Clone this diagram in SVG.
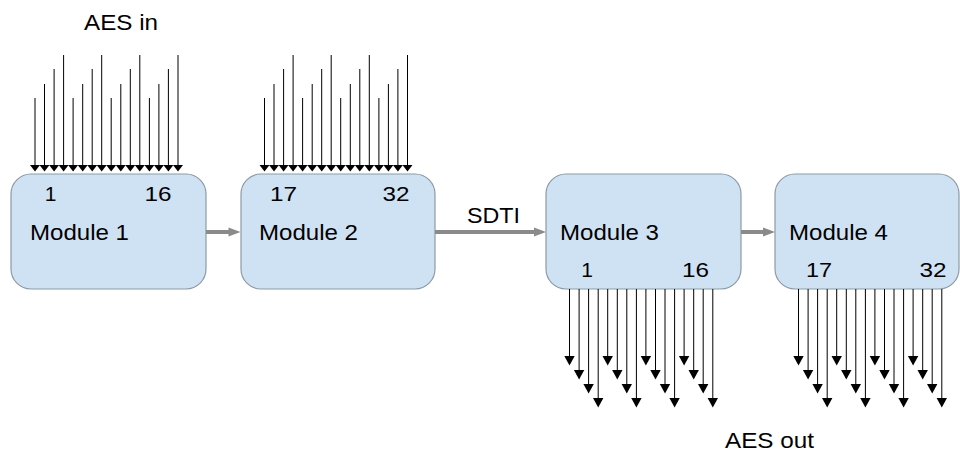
<svg xmlns="http://www.w3.org/2000/svg" xmlns:xlink="http://www.w3.org/1999/xlink" width="960" height="452" viewBox="0 0 960 452">
  <style>
    .box { fill: #cfe2f3; stroke: #8e9aa3; stroke-width: 1.2; }
    .lbl { font-family: "Liberation Sans", Arial, sans-serif; font-size: 22px; fill: #000; }
    .num { font-family: "Liberation Sans", Arial, sans-serif; font-size: 21px; fill: #000; text-anchor: middle; }
    .sig line { stroke: #000; stroke-width: 1; fill: none; }
    .sig use { fill: #000; }
    .link line { stroke: #8a8a8a; stroke-width: 4; fill: none; }
    .link use { fill: #8a8a8a; }
  </style>
  <defs>
    <!-- arrowheads, tip at the origin -->
    <path id="headIn" d="M-5,-6.5 L5,-6.5 L0,0 z"/>
    <path id="headOut" d="M-5.2,-9.5 L5.2,-9.5 L0,0 z"/>
    <path id="headLink" d="M-12,-4.5 L0,0 L-12,4.5 z"/>
  </defs>

  <rect width="960" height="452" fill="#fff"/>

  <!-- free labels -->
  <text class="lbl" x="84" y="30" textLength="74" lengthAdjust="spacingAndGlyphs">AES in</text>
  <text class="lbl" x="725" y="448" textLength="89" lengthAdjust="spacingAndGlyphs">AES out</text>

  <!-- modules -->
  <g id="module1">
    <rect class="box" x="11" y="174" width="195" height="115" rx="20" ry="20"/>
    <text class="lbl" x="30" y="239.5" textLength="99" lengthAdjust="spacingAndGlyphs">Module 1</text>
    <text class="num" x="50.5" y="200.5">1</text>
    <text class="num" x="158" y="200.5" textLength="27" lengthAdjust="spacingAndGlyphs">16</text>
  </g>
  <g id="module2">
    <rect class="box" x="241" y="174" width="194" height="115" rx="20" ry="20"/>
    <text class="lbl" x="259" y="239.5" textLength="99" lengthAdjust="spacingAndGlyphs">Module 2</text>
    <text class="num" x="283.5" y="200.5" textLength="27" lengthAdjust="spacingAndGlyphs">17</text>
    <text class="num" x="396" y="200.5" textLength="27" lengthAdjust="spacingAndGlyphs">32</text>
  </g>
  <g id="module3">
    <rect class="box" x="546" y="174" width="195" height="115" rx="20" ry="20"/>
    <text class="lbl" x="560" y="240" textLength="99" lengthAdjust="spacingAndGlyphs">Module 3</text>
    <text class="num" x="587" y="277">1</text>
    <text class="num" x="695.5" y="277" textLength="27" lengthAdjust="spacingAndGlyphs">16</text>
  </g>
  <g id="module4">
    <rect class="box" x="775" y="174" width="184" height="115" rx="20" ry="20"/>
    <text class="lbl" x="789" y="240" textLength="99" lengthAdjust="spacingAndGlyphs">Module 4</text>
    <text class="num" x="819" y="277" textLength="26" lengthAdjust="spacingAndGlyphs">17</text>
    <text class="num" x="933" y="277" textLength="27" lengthAdjust="spacingAndGlyphs">32</text>
  </g>

  <g id="connectors">
    <!-- module links -->
    <g class="link">
      <line x1="206" y1="232" x2="232" y2="232"/>
      <use xlink:href="#headLink" href="#headLink" x="240.5" y="232"/>
      <line x1="435" y1="232" x2="538" y2="232"/>
      <use xlink:href="#headLink" href="#headLink" x="546" y="232"/>
      <line x1="741" y1="232" x2="767" y2="232"/>
      <use xlink:href="#headLink" href="#headLink" x="775" y="232"/>
    </g>
    <text class="lbl" x="467" y="223" textLength="53" lengthAdjust="spacingAndGlyphs">SDTI</text>

    <!-- AES inputs 1..16 into module 1 -->
    <g class="sig">
      <line x1="35.0" y1="98" x2="35.0" y2="166"/>
      <line x1="44.5" y1="84" x2="44.5" y2="166"/>
      <line x1="54.1" y1="69" x2="54.1" y2="166"/>
      <line x1="63.6" y1="55" x2="63.6" y2="166"/>
      <line x1="73.1" y1="98" x2="73.1" y2="166"/>
      <line x1="82.7" y1="84" x2="82.7" y2="166"/>
      <line x1="92.2" y1="69" x2="92.2" y2="166"/>
      <line x1="101.7" y1="55" x2="101.7" y2="166"/>
      <line x1="111.2" y1="98" x2="111.2" y2="166"/>
      <line x1="120.8" y1="84" x2="120.8" y2="166"/>
      <line x1="130.3" y1="69" x2="130.3" y2="166"/>
      <line x1="139.8" y1="55" x2="139.8" y2="166"/>
      <line x1="149.4" y1="98" x2="149.4" y2="166"/>
      <line x1="158.9" y1="84" x2="158.9" y2="166"/>
      <line x1="168.4" y1="69" x2="168.4" y2="166"/>
      <line x1="178.0" y1="55" x2="178.0" y2="166"/>
      <use href="#headIn" x="35.0" y="171.5"/>
      <use href="#headIn" x="44.5" y="171.5"/>
      <use href="#headIn" x="54.1" y="171.5"/>
      <use href="#headIn" x="63.6" y="171.5"/>
      <use href="#headIn" x="73.1" y="171.5"/>
      <use href="#headIn" x="82.7" y="171.5"/>
      <use href="#headIn" x="92.2" y="171.5"/>
      <use href="#headIn" x="101.7" y="171.5"/>
      <use href="#headIn" x="111.2" y="171.5"/>
      <use href="#headIn" x="120.8" y="171.5"/>
      <use href="#headIn" x="130.3" y="171.5"/>
      <use href="#headIn" x="139.8" y="171.5"/>
      <use href="#headIn" x="149.4" y="171.5"/>
      <use href="#headIn" x="158.9" y="171.5"/>
      <use href="#headIn" x="168.4" y="171.5"/>
      <use href="#headIn" x="178.0" y="171.5"/>
    </g>

    <!-- AES inputs 17..32 into module 2 -->
    <g class="sig">
      <line x1="264.5" y1="98" x2="264.5" y2="166"/>
      <line x1="274.0" y1="84" x2="274.0" y2="166"/>
      <line x1="283.6" y1="69" x2="283.6" y2="166"/>
      <line x1="293.1" y1="55" x2="293.1" y2="166"/>
      <line x1="302.6" y1="98" x2="302.6" y2="166"/>
      <line x1="312.2" y1="84" x2="312.2" y2="166"/>
      <line x1="321.7" y1="69" x2="321.7" y2="166"/>
      <line x1="331.2" y1="55" x2="331.2" y2="166"/>
      <line x1="340.7" y1="98" x2="340.7" y2="166"/>
      <line x1="350.3" y1="84" x2="350.3" y2="166"/>
      <line x1="359.8" y1="69" x2="359.8" y2="166"/>
      <line x1="369.3" y1="55" x2="369.3" y2="166"/>
      <line x1="378.9" y1="98" x2="378.9" y2="166"/>
      <line x1="388.4" y1="84" x2="388.4" y2="166"/>
      <line x1="397.9" y1="69" x2="397.9" y2="166"/>
      <line x1="407.5" y1="55" x2="407.5" y2="166"/>
      <use href="#headIn" x="264.5" y="171.5"/>
      <use href="#headIn" x="274.0" y="171.5"/>
      <use href="#headIn" x="283.6" y="171.5"/>
      <use href="#headIn" x="293.1" y="171.5"/>
      <use href="#headIn" x="302.6" y="171.5"/>
      <use href="#headIn" x="312.2" y="171.5"/>
      <use href="#headIn" x="321.7" y="171.5"/>
      <use href="#headIn" x="331.2" y="171.5"/>
      <use href="#headIn" x="340.7" y="171.5"/>
      <use href="#headIn" x="350.3" y="171.5"/>
      <use href="#headIn" x="359.8" y="171.5"/>
      <use href="#headIn" x="369.3" y="171.5"/>
      <use href="#headIn" x="378.9" y="171.5"/>
      <use href="#headIn" x="388.4" y="171.5"/>
      <use href="#headIn" x="397.9" y="171.5"/>
      <use href="#headIn" x="407.5" y="171.5"/>
    </g>

    <!-- AES outputs 1..16 from module 3 -->
    <g class="sig">
      <line x1="569.5" y1="289" x2="569.5" y2="357"/>
      <line x1="579.1" y1="289" x2="579.1" y2="371"/>
      <line x1="588.6" y1="289" x2="588.6" y2="385"/>
      <line x1="598.2" y1="289" x2="598.2" y2="399"/>
      <line x1="607.7" y1="289" x2="607.7" y2="357"/>
      <line x1="617.3" y1="289" x2="617.3" y2="371"/>
      <line x1="626.8" y1="289" x2="626.8" y2="385"/>
      <line x1="636.4" y1="289" x2="636.4" y2="399"/>
      <line x1="645.9" y1="289" x2="645.9" y2="357"/>
      <line x1="655.5" y1="289" x2="655.5" y2="371"/>
      <line x1="665.0" y1="289" x2="665.0" y2="385"/>
      <line x1="674.6" y1="289" x2="674.6" y2="399"/>
      <line x1="684.1" y1="289" x2="684.1" y2="357"/>
      <line x1="693.7" y1="289" x2="693.7" y2="371"/>
      <line x1="703.2" y1="289" x2="703.2" y2="385"/>
      <line x1="712.8" y1="289" x2="712.8" y2="399"/>
      <use href="#headOut" x="569.5" y="365.5"/>
      <use href="#headOut" x="579.1" y="379.5"/>
      <use href="#headOut" x="588.6" y="393.5"/>
      <use href="#headOut" x="598.2" y="407.5"/>
      <use href="#headOut" x="607.7" y="365.5"/>
      <use href="#headOut" x="617.3" y="379.5"/>
      <use href="#headOut" x="626.8" y="393.5"/>
      <use href="#headOut" x="636.4" y="407.5"/>
      <use href="#headOut" x="645.9" y="365.5"/>
      <use href="#headOut" x="655.5" y="379.5"/>
      <use href="#headOut" x="665.0" y="393.5"/>
      <use href="#headOut" x="674.6" y="407.5"/>
      <use href="#headOut" x="684.1" y="365.5"/>
      <use href="#headOut" x="693.7" y="379.5"/>
      <use href="#headOut" x="703.2" y="393.5"/>
      <use href="#headOut" x="712.8" y="407.5"/>
    </g>

    <!-- AES outputs 17..32 from module 4 -->
    <g class="sig">
      <line x1="798.5" y1="289" x2="798.5" y2="357"/>
      <line x1="808.1" y1="289" x2="808.1" y2="371"/>
      <line x1="817.6" y1="289" x2="817.6" y2="385"/>
      <line x1="827.2" y1="289" x2="827.2" y2="399"/>
      <line x1="836.7" y1="289" x2="836.7" y2="357"/>
      <line x1="846.3" y1="289" x2="846.3" y2="371"/>
      <line x1="855.8" y1="289" x2="855.8" y2="385"/>
      <line x1="865.4" y1="289" x2="865.4" y2="399"/>
      <line x1="874.9" y1="289" x2="874.9" y2="357"/>
      <line x1="884.5" y1="289" x2="884.5" y2="371"/>
      <line x1="894.0" y1="289" x2="894.0" y2="385"/>
      <line x1="903.6" y1="289" x2="903.6" y2="399"/>
      <line x1="913.1" y1="289" x2="913.1" y2="357"/>
      <line x1="922.7" y1="289" x2="922.7" y2="371"/>
      <line x1="932.2" y1="289" x2="932.2" y2="385"/>
      <line x1="941.8" y1="289" x2="941.8" y2="399"/>
      <use href="#headOut" x="798.5" y="365.5"/>
      <use href="#headOut" x="808.1" y="379.5"/>
      <use href="#headOut" x="817.6" y="393.5"/>
      <use href="#headOut" x="827.2" y="407.5"/>
      <use href="#headOut" x="836.7" y="365.5"/>
      <use href="#headOut" x="846.3" y="379.5"/>
      <use href="#headOut" x="855.8" y="393.5"/>
      <use href="#headOut" x="865.4" y="407.5"/>
      <use href="#headOut" x="874.9" y="365.5"/>
      <use href="#headOut" x="884.5" y="379.5"/>
      <use href="#headOut" x="894.0" y="393.5"/>
      <use href="#headOut" x="903.6" y="407.5"/>
      <use href="#headOut" x="913.1" y="365.5"/>
      <use href="#headOut" x="922.7" y="379.5"/>
      <use href="#headOut" x="932.2" y="393.5"/>
      <use href="#headOut" x="941.8" y="407.5"/>
    </g>
  </g>
</svg>
